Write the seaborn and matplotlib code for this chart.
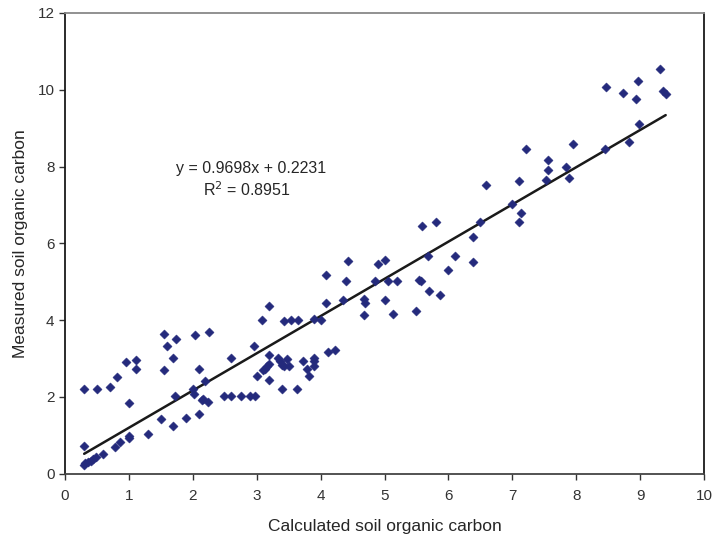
import numpy as np
import pandas as pd
import matplotlib
matplotlib.use("Agg")
import matplotlib.pyplot as plt
import seaborn as sns

# calculated vs measured soil organic carbon
calculated = [0.30, 0.31, 0.36, 0.40, 0.44, 0.49, 0.60, 0.79, 0.86, 1.00, 1.00,
              0.30, 1.30, 1.50, 1.69, 1.89, 2.10, 2.16, 2.23, 2.00, 2.02, 2.49,
              2.60, 1.72, 2.19, 1.00, 0.30, 0.50, 0.70, 0.81, 0.96, 1.11, 1.11,
              1.55, 1.60, 1.74, 1.69, 1.55, 2.03, 2.25, 2.10, 2.60,
              4.43, 4.09, 4.39, 4.09, 4.35, 3.19, 3.09, 3.42, 3.54, 3.64, 3.90,
              4.00, 2.95, 2.15, 2.76, 2.90, 2.98, 3.00, 3.19, 3.19, 3.16, 3.13,
              3.10, 3.19, 3.34, 3.36, 3.39, 3.43, 3.47, 3.50, 3.40, 3.63, 3.73,
              3.78, 3.82, 3.90, 3.90, 3.90, 4.11, 4.22,
              5.59, 5.81, 6.39, 6.39, 6.11, 5.99, 5.68, 5.87, 5.69, 5.54, 5.57,
              5.49, 5.14, 5.19, 5.06, 5.00, 4.85, 4.90, 5.00, 4.68, 4.70, 4.68,
              7.22, 7.95, 7.56, 7.56, 7.84, 7.88, 7.53, 7.11, 6.59, 7.00, 7.14,
              7.10, 6.50,
              9.31, 8.97, 8.47, 8.73, 8.94, 9.36, 9.40, 8.98, 8.82, 8.45]
measured = [0.23, 0.28, 0.29, 0.32, 0.38, 0.42, 0.51, 0.69, 0.82, 0.97, 0.93,
            0.71, 1.02, 1.42, 1.23, 1.45, 1.55, 1.93, 1.87, 2.19, 2.06, 2.01,
            2.01, 2.01, 2.42, 1.84, 2.19, 2.21, 2.25, 2.51, 2.90, 2.97, 2.73,
            3.64, 3.32, 3.51, 3.01, 2.71, 3.62, 3.70, 2.73, 3.01,
            5.55, 5.18, 5.01, 4.44, 4.53, 4.36, 4.01, 3.98, 4.01, 4.01, 4.03,
            3.99, 3.31, 1.91, 2.01, 2.01, 2.01, 2.55, 3.09, 2.86, 2.79, 2.73,
            2.69, 2.43, 3.01, 2.92, 2.84, 2.79, 2.99, 2.79, 2.20, 2.20, 2.94,
            2.73, 2.53, 3.01, 2.92, 2.79, 3.17, 3.21,
            6.45, 6.55, 6.16, 5.51, 5.68, 5.31, 5.68, 4.64, 4.75, 5.03, 5.01,
            4.23, 4.15, 5.02, 5.02, 4.51, 5.02, 5.45, 5.56, 4.56, 4.45, 4.12,
            8.46, 8.58, 8.17, 7.92, 7.98, 7.70, 7.66, 7.62, 7.52, 7.02, 6.80,
            6.56, 6.55,
            10.55, 10.22, 10.07, 9.91, 9.77, 9.97, 9.90, 9.11, 8.65, 8.46]

slope = 0.9698
intercept = 0.2231
r_squared = 0.8951

df = pd.DataFrame({"calc": calculated, "meas": measured})
x_line = np.array([min(calculated), max(calculated)])
line_df = pd.DataFrame({"x": x_line, "y": slope * x_line + intercept})

sns.set_style("white")
plt.rcParams["font.family"] = ["Liberation Sans", "DejaVu Sans"]

fig = plt.figure(figsize=(7.12, 5.37), dpi=100)
ax = fig.add_axes([0.0913, 0.1182, 0.8975, 0.8576])

sns.scatterplot(data=df, x="calc", y="meas", marker="D", s=22,
                color="#242a7c", edgecolor="#242a7c", linewidth=0.3, ax=ax, zorder=3)
sns.lineplot(data=line_df, x="x", y="y", color="#1a1a1a", linewidth=1.8, ax=ax, zorder=2)

# trendline label
ax.text(2.91, 7.94, f"y = {slope}x + {intercept}", ha="center", va="center", fontsize=11.5)
ax.text(2.85, 7.40, f"R$^2$ = {r_squared}", ha="center", va="center", fontsize=11.5)

ax.set_xlim(0, 10)
ax.set_ylim(0, 12)
ax.set_xticks(range(0, 11))
ax.set_yticks(range(0, 13, 2))
ax.set_xlabel("Calculated soil organic carbon", fontsize=12.5, labelpad=12)
ax.set_ylabel("Measured soil organic carbon", fontsize=12.5, labelpad=7)
ax.tick_params(axis="both", which="both", direction="out", length=4, width=1,
               colors="#333333", labelsize=11, left=True, bottom=True)
ax.tick_params(axis="x", pad=7)

for side in ["left", "right"]:
    ax.spines[side].set_color("#1a1a1a")
    ax.spines[side].set_linewidth(1.3)
ax.spines["bottom"].set_color("#444444")
ax.spines["bottom"].set_linewidth(1.3)
ax.spines["top"].set_color("#888888")
ax.spines["top"].set_linewidth(1.3)

fig.savefig("out.png", dpi=100)
